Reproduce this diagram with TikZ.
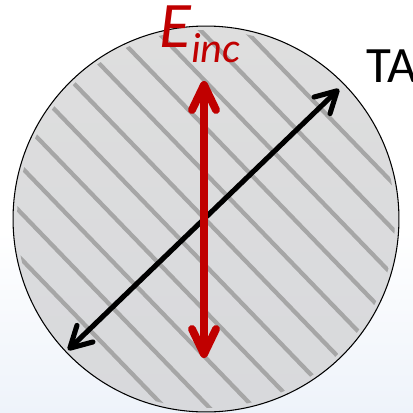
\documentclass[tikz,border=0pt]{standalone}
\usepackage{fontspec}
\setmainfont{Carlito}
\usetikzlibrary{arrows.meta}
\definecolor{incred}{HTML}{C00000}
\definecolor{hatchgray}{HTML}{A6A6A6}
\definecolor{disktop}{HTML}{DEDEDE}
\definecolor{diskbot}{HTML}{D8D9DC}
\definecolor{bgblue}{HTML}{EEF3FA}

\begin{document}
\begin{tikzpicture}[x=0.02cm,y=-0.02cm,
  hatch/.style={hatchgray,line width=2.4pt},
  taarrow/.style={black,line width=2.9pt,line cap=round,{Straight Barb[length=4.2mm,width=4.6mm,round]}-{Straight Barb[length=4.2mm,width=4.6mm,round]}},
  incarrow/.style={incred,line width=4.5pt,line cap=round,{Straight Barb[length=5mm,width=4.8mm,round]}-{Straight Barb[length=5mm,width=4.8mm,round]}}]
\useasboundingbox (0,0) rectangle (413,413);
\fill[white] (0,0) rectangle (413,413);
\shade[top color=white,bottom color=bgblue] (0,230) rectangle (413,413);
% disk with hatching
\coordinate (ctr) at (206,219);
\shade[top color=disktop,bottom color=diskbot] (ctr) circle[radius=3.86cm];
\begin{scope}
\clip (ctr) circle[radius=3.78cm];
\foreach \k in {-11,...,9}{
  \pgfmathsetmacro\xo{294+44.5*\k}
  \draw[hatch] (\xo-290,-81) -- (\xo+290,519);}
\end{scope}
\draw[black,line width=0.6pt] (ctr) circle[radius=3.86cm];
% arrows
\coordinate (ta0) at (68,350);\coordinate (ta1) at (339,89);
\draw[taarrow] (ta0) -- (ta1);
\coordinate (e0) at (204,358);\coordinate (e1) at (204,81);
\draw[incarrow] (e0) -- (e1);
% labels
\node[text=incred,anchor=base west,inner sep=0] (einc) at (159,47) {\fontsize{37}{37}\selectfont\itshape E\raisebox{-9pt}{\fontsize{24}{24}\selectfont inc}};
\node[anchor=base west,inner sep=0] (ta) at (366,82) {\fontsize{29}{29}\selectfont TA};
\end{tikzpicture}
\end{document}
